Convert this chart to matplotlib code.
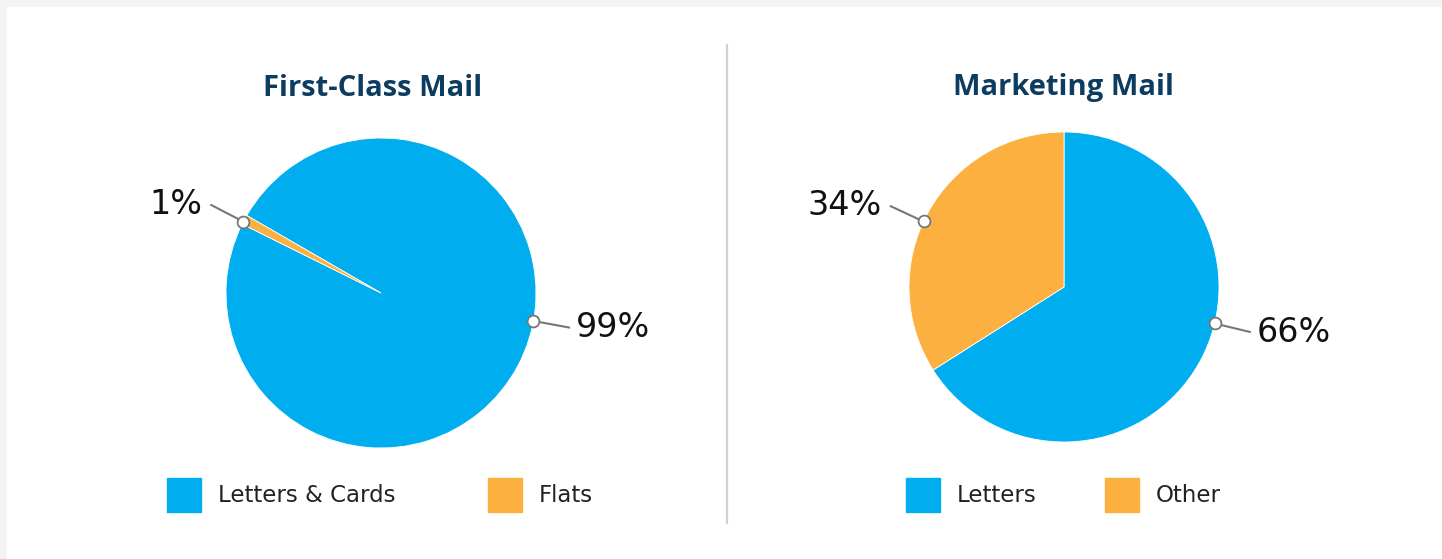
import matplotlib.pyplot as plt
from matplotlib.patches import Rectangle
import numpy as np

# data
first_class_labels = ['Letters & Cards', 'Flats']
first_class_values = [99, 1]
marketing_labels = ['Letters', 'Other']
marketing_values = [66, 34]
titles = ['First-Class Mail', 'Marketing Mail']

BLUE = '#00aeef'
ORANGE = '#fbb040'
NAVY = '#0d3c61'
GREY = '#777777'

W, H = 1442, 559
fig = plt.figure(figsize=(W / 100, H / 100), dpi=100)

# background layer in pixel coordinates
bg = fig.add_axes([0, 0, 1, 1], zorder=0)
bg.set_xlim(0, W)
bg.set_ylim(H, 0)
bg.axis('off')
bg.add_patch(Rectangle((0, 0), W, H, color='#f3f3f3'))
bg.add_patch(Rectangle((7, 7), W, H, color='white'))
bg.plot([727, 727], [45, 523], color='#d0d0d0', lw=1.6)


def draw_pie(values, labels, title, cx, cy, r, startangle, label_angles,
             legend_x, title_x):
    ax = fig.add_axes([(cx - r) / W, (H - cy - r) / H, 2 * r / W, 2 * r / H],
                      zorder=2)
    ax.pie(values, colors=[BLUE, ORANGE], startangle=startangle,
           counterclock=False, radius=1,
           wedgeprops=dict(edgecolor='white', linewidth=0.6))
    ax.set_xlim(-1, 1)
    ax.set_ylim(-1, 1)
    ax.set_aspect('auto')
    ax.axis('off')

    # callouts
    for v, ang in zip(values, label_angles):
        t = np.deg2rad(ang)
        x0, y0 = np.cos(t), np.sin(t)
        x1, y1 = 1.24 * np.cos(t), 1.24 * np.sin(t)
        ax.plot([x0, x1], [y0, y1], color=GREY, lw=1.5, clip_on=False,
                solid_capstyle='butt')
        ax.plot(x0, y0, 'o', ms=8.5, mfc='white', mec=GREY, mew=1.3,
                clip_on=False, zorder=5)
        right = np.cos(t) > 0
        ax.text(x1 + (0.04 if right else -0.05), y1, f'{v}%',
                ha='left' if right else 'right', va='center',
                fontsize=24, family='DejaVu Sans', color='#111111')

    # title
    bg.text(title_x, 88, title, ha='center', va='center', fontsize=21,
            family='Open Sans', fontweight='bold', color=NAVY)

    # legend
    for lx, lab, col in zip(legend_x, labels, [BLUE, ORANGE]):
        bg.add_patch(Rectangle((lx, 478), 34, 34, color=col))
        bg.text(lx + 51, 496, lab, ha='left', va='center', fontsize=16.5,
                family='DejaVu Sans', color='#222222')


draw_pie(first_class_values, first_class_labels, titles[0],
         381, 293, 155, 150, [-10.4, 152.6], [167, 488], 373)
draw_pie(marketing_values, marketing_labels, titles[1],
         1064, 287, 155, 90, [-13.6, 155], [906, 1105], 1063)

fig.savefig('out.png', dpi=100)
